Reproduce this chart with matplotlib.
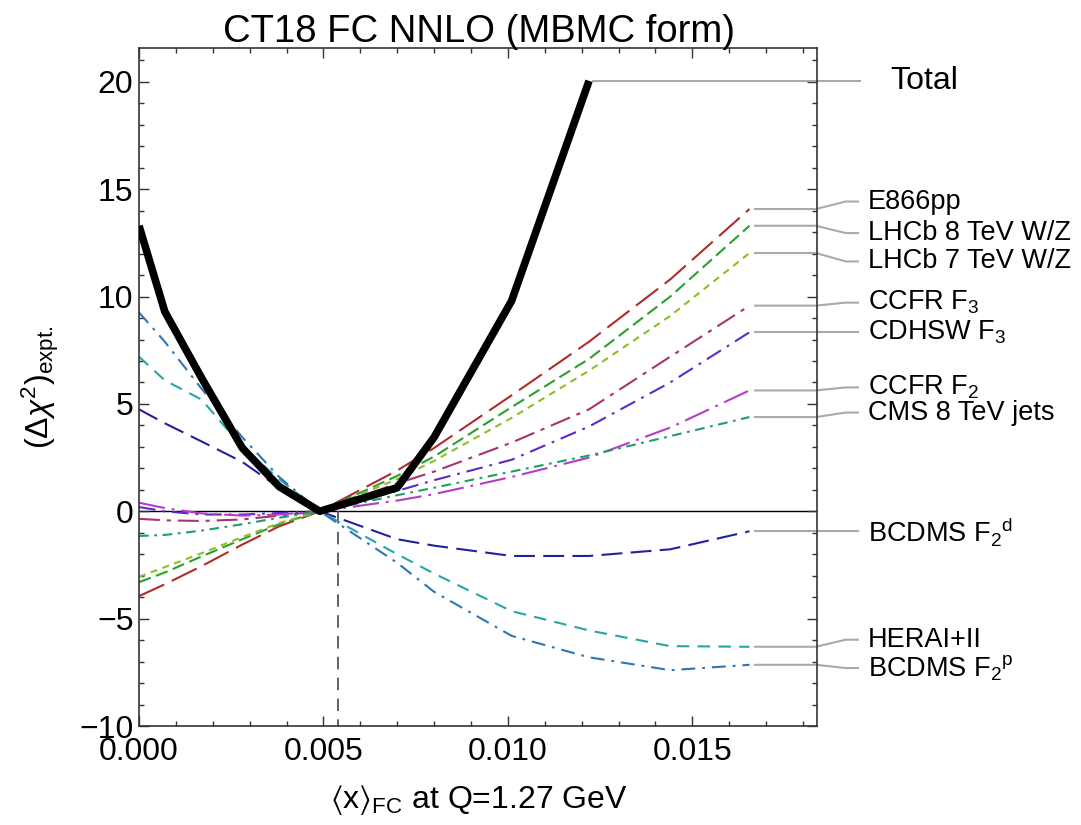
import matplotlib
matplotlib.use("Agg")
import matplotlib.pyplot as plt
from matplotlib.ticker import MultipleLocator

plt.rcParams["font.family"] = ["Liberation Sans", "DejaVu Sans"]
plt.rcParams["mathtext.fontset"] = "custom"
plt.rcParams["mathtext.rm"] = "Liberation Sans"
plt.rcParams["mathtext.it"] = "Liberation Sans:italic"
plt.rcParams["mathtext.sf"] = "Liberation Sans"
plt.rcParams["mathtext.fallback"] = "stixsans"
plt.rcParams["lines.scale_dashes"] = False

# <x>_FC values of the scan
fc_x = [0.0, 0.0007, 0.0017, 0.0028, 0.0038, 0.0049, 0.0070, 0.0080, 0.0101, 0.0122, 0.0144, 0.01655]

total = [13.3, 9.3, 6.2, 2.95, 1.15, 0.0, 1.1, 3.45, 9.8, 20.05]

e866pp = [-3.95, -3.4, -2.55, -1.55, -0.7, 0.0, 1.9, 2.95, 5.4, 7.9, 10.8, 14.08]
lhcb8 = [-3.3, -2.85, -2.1, -1.3, -0.6, 0.0, 1.65, 2.55, 4.85, 7.1, 10.0, 13.3]
lhcb7 = [-3.05, -2.6, -1.95, -1.2, -0.55, 0.0, 1.5, 2.35, 4.35, 6.55, 9.1, 12.03]
ccfr_f3 = [-0.35, -0.42, -0.45, -0.38, -0.2, 0.0, 1.3, 1.85, 3.2, 4.75, 7.2, 9.58]
cdhsw_f3 = [0.2, 0.0, -0.15, -0.15, -0.08, 0.0, 0.95, 1.45, 2.4, 3.95, 6.0, 8.34]
ccfr_f2 = [0.4, 0.15, -0.1, -0.2, -0.15, 0.0, 0.5, 0.8, 1.6, 2.5, 3.9, 5.63]
cms8_jets = [-1.15, -1.1, -0.9, -0.6, -0.3, 0.0, 0.75, 1.1, 1.85, 2.6, 3.5, 4.39]
bcdms_f2d = [4.75, 4.1, 3.25, 2.3, 1.1, 0.0, -1.3, -1.6, -2.08, -2.08, -1.77, -0.93]
hera = [7.2, 6.1, 5.2, 3.0, 1.5, 0.0, -2.0, -2.9, -4.65, -5.55, -6.28, -6.31]
bcdms_f2p = [9.26, 7.9, 5.7, 3.45, 1.6, 0.0, -2.4, -3.75, -5.8, -6.8, -7.4, -7.15]

series = [e866pp, lhcb8, lhcb7, ccfr_f3, cdhsw_f3, ccfr_f2, cms8_jets, bcdms_f2d, hera, bcdms_f2p]
labels = ["E866pp", "LHCb 8 TeV W/Z", "LHCb 7 TeV W/Z", r"CCFR F$_3$", r"CDHSW F$_3$",
          r"CCFR F$_2$", "CMS 8 TeV jets", r"BCDMS F$_2{}^{\mathrm{d}}$", "HERAI+II",
          r"BCDMS F$_2{}^{\mathrm{p}}$"]
label_y = [14.43, 12.96, 11.64, 9.72, 8.34, 5.77, 4.6, -0.93, -5.98, -7.3]
colors = ["#b02c2c", "#2ca02c", "#8cbf26", "#a8336e", "#5b2bc8", "#b43cc8", "#1f9e6a",
          "#22229a", "#26a6a6", "#2f74b5"]
dashes = [(20, 6), (9, 4), (5, 4), (15, 5, 3, 5), (12, 5, 2, 5), (19, 5, 2, 5),
          (7, 4, 2, 4), (15, 6), (9, 6), (10, 5, 2, 5)]

x_best = 0.00539
xmax = 0.01838

fig = plt.figure(figsize=(10.81, 8.25), dpi=100)
ax = fig.add_axes([139 / 1081, 1 - 726 / 825, 678 / 1081, 678 / 825])
ax.set_xlim(0, xmax)
ax.set_ylim(-10, 21.58)

ax.axhline(0, color="black", lw=1.0, zorder=1)
ax.plot([x_best, x_best], [0, -10], color="#555555", lw=1.3, dashes=(9, 6), zorder=1)

for ys, lab, ly, col, ds in zip(series, labels, label_y, colors, dashes):
    ax.plot(fc_x, ys, color=col, lw=1.5, dashes=ds, zorder=2)
    end = ys[-1]
    ax.plot([fc_x[-1] + 0.00015, 0.01835, 0.01916, 0.01949], [end, end, ly, ly],
            color="#aaaaaa", lw=1.5, clip_on=False)
    ax.text(0.01975, ly, lab, fontsize=19.5, ha="left", va="center", clip_on=False)

ax.plot(fc_x[:len(total)], total, color="black", lw=5.5, solid_capstyle="butt", zorder=3)
ax.plot([fc_x[len(total) - 1] + 0.00012, 0.01955], [total[-1], total[-1]],
        color="#aaaaaa", lw=1.5, clip_on=False)
ax.text(0.02036, total[-1], "Total", fontsize=23, ha="left", va="center", clip_on=False)

ax.xaxis.set_major_locator(MultipleLocator(0.005))
ax.xaxis.set_minor_locator(MultipleLocator(0.001))
ax.yaxis.set_major_locator(MultipleLocator(5))
ax.yaxis.set_minor_locator(MultipleLocator(1))
ax.xaxis.set_major_formatter(matplotlib.ticker.FuncFormatter(lambda v, p: f"{v:.3f}"))
ax.yaxis.set_major_formatter(matplotlib.ticker.FuncFormatter(lambda v, p: f"{v:.0f}".replace("-", "\u2212")))
ax.tick_params(which="both", direction="in", top=True, right=True, labelsize=23,
               color="#333333", width=1.0)
ax.tick_params(which="major", length=7)
ax.tick_params(which="minor", length=3.5)
ax.tick_params(axis="x", pad=8)
ax.tick_params(axis="y", pad=4)
for sp in ax.spines.values():
    sp.set_color("#333333")
    sp.set_linewidth(1.2)

fig.text(479 / 1081, 1 - 42 / 825, "CT18 FC NNLO (MBMC form)", fontsize=27.5,
         ha="center", va="baseline")
fig.text(479 / 1081, 1 - 800 / 825, r"$\langle\mathrm{x}\rangle_{\mathrm{FC}}$ at Q=1.27 GeV",
         fontsize=23, ha="center", va="center")
fig.text(40 / 1081, 1 - 387 / 825, r"$(\Delta\chi^{2})_{\mathrm{expt.}}$", fontsize=23,
         rotation=90, ha="center", va="center")

fig.savefig("out.png", dpi=100)
plt.close(fig)
